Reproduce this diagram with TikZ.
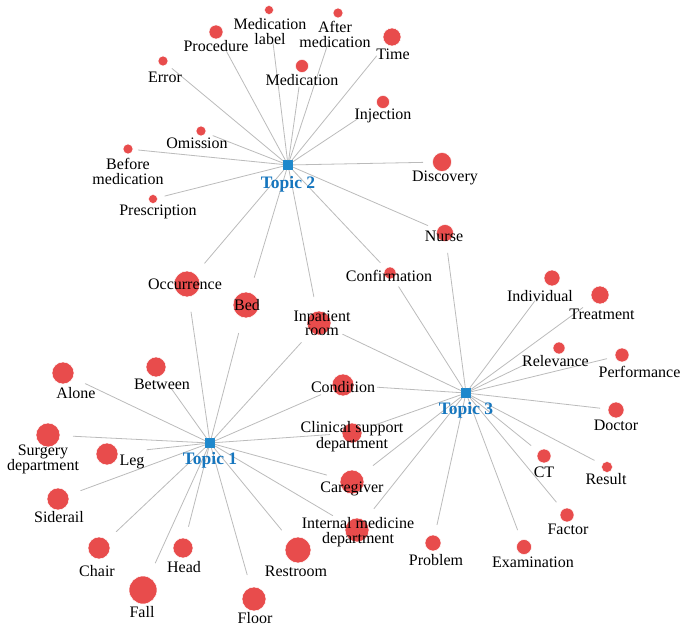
\documentclass[tikz,border=0pt]{standalone}
\usepackage{fontspec}
\setmainfont{Liberation Serif}

\definecolor{wordred}{HTML}{E84C4C}
\definecolor{topicblue}{HTML}{1E88CC}
\definecolor{topictext}{HTML}{1676BE}
\definecolor{linkgray}{HTML}{BBBBBB}

\newcommand{\wordfont}{\fontsize{16}{14.5}\selectfont}
\newcommand{\topicfont}{\fontsize{17.5}{18}\selectfont\bfseries}

\tikzset{
  word/.style={circle,fill=wordred,draw=white,line width=0.5pt,inner sep=0pt},
  topic/.style={rectangle,fill=topicblue,minimum size=10pt,inner sep=0pt},
  wordlbl/.style={font=\wordfont,inner sep=0pt,text height=10.5pt,text depth=3.5pt,yshift=-2.5pt},
  wordlbltwo/.style={font=\wordfont,inner sep=0pt,align=center,yshift=-1.5pt},
  topiclbl/.style={font=\topicfont,text=topictext,inner sep=0pt,text height=11.5pt,text depth=4pt,yshift=-2.5pt},
  link/.style={draw=linkgray,line width=0.8pt},
}

\begin{document}
\begin{tikzpicture}[line cap=round,line join=round,x=1pt,y=-1pt]
\useasboundingbox (0,0) rectangle (690,628);
% topics
\node[topic] (t1) at (210,443) {};
\node[topic] (t2) at (288,165) {};
\node[topic] (t3) at (466,393) {};
% words
\node[word,minimum size=9pt] (medlabel) at (269,10) {};
\node[word,minimum size=10pt] (aftermed) at (338,13) {};
\node[word,minimum size=14pt] (procedure) at (216,32) {};
\node[word,minimum size=18pt] (time) at (392,37) {};
\node[word,minimum size=10pt] (error) at (163,61) {};
\node[word,minimum size=13pt] (medication) at (302,66) {};
\node[word,minimum size=13pt] (injection) at (383,102) {};
\node[word,minimum size=10pt] (omission) at (201,131) {};
\node[word,minimum size=10pt] (beforemed) at (128,149) {};
\node[word,minimum size=9pt] (prescription) at (153,199) {};
\node[word,minimum size=19pt] (discovery) at (442,162) {};
\node[word,minimum size=17pt] (nurse) at (445,233) {};
\node[word,minimum size=12pt] (confirmation) at (390,273) {};
\node[word,minimum size=26pt] (occurrence) at (187,284) {};
\node[word,minimum size=26pt] (bed) at (246,305) {};
\node[word,minimum size=24pt] (inpatient) at (319,323) {};
\node[word,minimum size=22pt] (alone) at (63,373) {};
\node[word,minimum size=20pt] (between) at (156,367) {};
\node[word,minimum size=22pt] (condition) at (343,385) {};
\node[word,minimum size=24pt] (surgery) at (48,435) {};
\node[word,minimum size=22pt] (leg) at (107,454) {};
\node[word,minimum size=20pt] (clinical) at (352,433) {};
\node[word,minimum size=22pt] (siderail) at (58,499) {};
\node[word,minimum size=24pt] (caregiver) at (352,482) {};
\node[word,minimum size=22pt] (chair) at (99,548) {};
\node[word,minimum size=28pt] (fall) at (143,590) {};
\node[word,minimum size=20pt] (head) at (183,548) {};
\node[word,minimum size=24pt] (floor) at (254,599) {};
\node[word,minimum size=26pt] (restroom) at (298,550) {};
\node[word,minimum size=24pt] (internal) at (357,530) {};
\node[word,minimum size=16pt] (individual) at (552,278) {};
\node[word,minimum size=18pt] (treatment) at (600,295) {};
\node[word,minimum size=12pt] (relevance) at (559,348) {};
\node[word,minimum size=14pt] (performance) at (622,355) {};
\node[word,minimum size=16pt] (doctor) at (616,410) {};
\node[word,minimum size=14pt] (ct) at (544,456) {};
\node[word,minimum size=11pt] (result) at (607,467) {};
\node[word,minimum size=14pt] (factor) at (567,515) {};
\node[word,minimum size=15pt] (examination) at (524,547) {};
\node[word,minimum size=16pt] (problem) at (433,543) {};
% links of topic 2
\draw[link,shorten >=27.5pt] (t2) -- (medlabel);
\draw[link,shorten >=28.5pt] (t2) -- (aftermed);
\draw[link,shorten >=15pt] (t2) -- (procedure);
\draw[link,shorten >=15pt] (t2) -- (time);
\draw[link,shorten >=6.5pt] (t2) -- (error);
\draw[link,shorten >=14.5pt] (t2) -- (medication);
\draw[link,shorten >=24pt] (t2) -- (injection);
\draw[link,shorten >=7.5pt] (t2) -- (omission);
\draw[link,shorten >=5pt] (t2) -- (beforemed);
\draw[link,shorten >=7.5pt] (t2) -- (prescription);
\draw[link,shorten >=9.5pt] (t2) -- (discovery);
\draw[link,shorten >=10pt] (t2) -- (nurse);
\draw[link,shorten >=8pt] (t2) -- (confirmation);
\draw[link,shorten >=14pt] (t2) -- (occurrence);
\draw[link,shorten >=15.5pt] (t2) -- (bed);
\draw[link,shorten >=14.5pt] (t2) -- (inpatient);
% links of topic 1
\draw[link,shorten >=13.5pt] (t1) -- (alone);
\draw[link,shorten >=15.5pt] (t1) -- (between);
\draw[link,shorten >=15pt] (t1) -- (occurrence);
\draw[link,shorten >=16pt] (t1) -- (bed);
\draw[link,shorten >=14pt] (t1) -- (inpatient);
\draw[link,shorten >=13pt] (t1) -- (condition);
\draw[link,shorten >=13pt] (t1) -- (surgery);
\draw[link,shorten >=29pt] (t1) -- (leg);
\draw[link,shorten >=12pt] (t1) -- (clinical);
\draw[link,shorten >=13pt] (t1) -- (siderail);
\draw[link,shorten >=12.5pt] (t1) -- (chair);
\draw[link,shorten >=15.5pt] (t1) -- (fall);
\draw[link,shorten >=12pt] (t1) -- (head);
\draw[link,shorten >=13pt] (t1) -- (floor);
\draw[link,shorten >=12.5pt] (t1) -- (restroom);
\draw[link,shorten >=14pt] (t1) -- (caregiver);
\draw[link,shorten >=16pt] (t1) -- (internal);
% links of topic 3
\draw[link,shorten >=11.5pt] (t3) -- (nurse);
\draw[link,shorten >=10pt] (t3) -- (confirmation);
\draw[link,shorten >=14pt] (t3) -- (inpatient);
\draw[link,shorten >=23pt] (t3) -- (condition);
\draw[link,shorten >=11.5pt] (t3) -- (clinical);
\draw[link,shorten >=14.5pt] (t3) -- (caregiver);
\draw[link,shorten >=15pt] (t3) -- (internal);
\draw[link,shorten >=10.5pt] (t3) -- (problem);
\draw[link,shorten >=10.5pt] (t3) -- (examination);
\draw[link,shorten >=9.5pt] (t3) -- (factor);
\draw[link,shorten >=9.5pt] (t3) -- (ct);
\draw[link,shorten >=8.5pt] (t3) -- (result);
\draw[link,shorten >=8pt] (t3) -- (doctor);
\draw[link,shorten >=8.5pt] (t3) -- (performance);
\draw[link,shorten >=26pt] (t3) -- (relevance);
\draw[link,shorten >=12pt] (t3) -- (treatment);
\draw[link,shorten >=20pt] (t3) -- (individual);
% labels
\node[wordlbltwo] (medlabel-l) at (270,30) {Medication\\label};
\node[wordlbltwo] (aftermed-l) at (335,33) {After\\medication};
\node[wordlbl] (procedure-l) at (216,46) {Procedure};
\node[wordlbl] (time-l) at (393,54) {Time};
\node[wordlbl] (error-l) at (165,77) {Error};
\node[wordlbl] (medication-l) at (302,80) {Medication};
\node[wordlbl] (injection-l) at (383,114) {Injection};
\node[wordlbl] (omission-l) at (197,143) {Omission};
\node[wordlbltwo] (beforemed-l) at (128,170) {Before\\medication};
\node[wordlbl] (prescription-l) at (158,210) {Prescription};
\node[wordlbl] (discovery-l) at (445,176) {Discovery};
\node[wordlbl] (nurse-l) at (444,235) {Nurse};
\node[wordlbl] (confirmation-l) at (389,275.5) {Confirmation};
\node[wordlbl] (occurrence-l) at (185,283) {Occurrence};
\node[wordlbl] (bed-l) at (247,304) {Bed};
\node[wordlbltwo] (inpatient-l) at (322,322) {Inpatient\\room};
\node[wordlbl] (alone-l) at (76,392) {Alone};
\node[wordlbl] (between-l) at (162,383) {Between};
\node[wordlbl] (condition-l) at (343,386) {Condition};
\node[wordlbltwo] (surgery-l) at (43,458) {Surgery\\department};
\node[wordlbl] (leg-l) at (132,459) {Leg};
\node[wordlbltwo] (clinical-l) at (352,435) {Clinical support\\department};
\node[wordlbl] (siderail-l) at (59,516) {Siderail};
\node[wordlbl] (caregiver-l) at (352,486) {Caregiver};
\node[wordlbl] (chair-l) at (97,570) {Chair};
\node[wordlbl] (fall-l) at (142,611.5) {Fall};
\node[wordlbl] (head-l) at (184,566.5) {Head};
\node[wordlbl] (floor-l) at (255,617) {Floor};
\node[wordlbl] (restroom-l) at (296,570.5) {Restroom};
\node[wordlbltwo] (internal-l) at (358,530.5) {Internal medicine\\department};
\node[wordlbl] (individual-l) at (540,295) {Individual};
\node[wordlbl] (treatment-l) at (602,313) {Treatment};
\node[wordlbl] (relevance-l) at (555.5,360) {Relevance};
\node[wordlbl] (performance-l) at (639.5,371.5) {Performance};
\node[wordlbl] (doctor-l) at (616,424) {Doctor};
\node[wordlbl] (ct-l) at (544,471) {CT};
\node[wordlbl] (result-l) at (606,478.5) {Result};
\node[wordlbl] (factor-l) at (568,528) {Factor};
\node[wordlbl] (examination-l) at (533,561.5) {Examination};
\node[wordlbl] (problem-l) at (436,559) {Problem};
% topic labels
\node[topiclbl] (t1-l) at (210,458) {Topic 1};
\node[topiclbl] (t2-l) at (288,182) {Topic 2};
\node[topiclbl] (t3-l) at (466,408) {Topic 3};
\end{tikzpicture}
\end{document}
